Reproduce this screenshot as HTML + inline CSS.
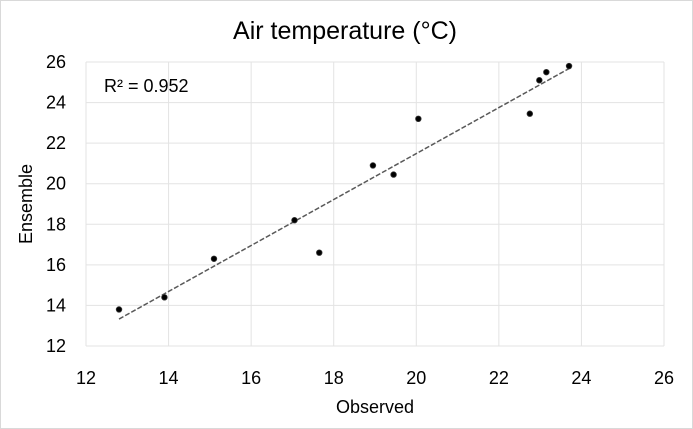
<!DOCTYPE html>
<html><head><meta charset="utf-8"><style>
body{margin:0;background:#fff;}
svg{display:block;font-family:"Liberation Sans",sans-serif;}
</style></head><body>
<svg id="c" width="693" height="429">
<rect x="0.5" y="0.5" width="692" height="428" fill="#fff" stroke="#d9d9d9"/>
<text x="345" y="39" text-anchor="middle" font-size="25" fill="#000">Air temperature (°C)</text>
<text x="375" y="413" text-anchor="middle" font-size="18" fill="#000">Observed</text>
<text transform="translate(32,204) rotate(-90)" text-anchor="middle" font-size="18" fill="#000">Ensemble</text>
<g id="grid"></g><g id="ticks"></g><g id="trend"></g><g id="pts"></g>
<text x="104" y="92" font-size="18" fill="#000">R² = 0.952</text>
</svg>
<script>
const xTicks=[12,14,16,18,20,22,24,26];
const yTicks=[12,14,16,18,20,22,24,26];
const observed=[12.8,13.9,15.1,17.05,17.65,18.95,19.45,20.05,22.75,22.98,23.15,23.7];
const ensemble=[13.8,14.4,16.3,18.2,16.6,20.9,20.45,23.2,23.45,25.1,25.5,25.8];
const ns="http://www.w3.org/2000/svg";
const X=v=>86+(v-12)*(664-86)/14;
const Y=v=>346-(v-12)*(346-62)/14;
function mk(t,a,p){const e=document.createElementNS(ns,t);for(const k in a)e.setAttribute(k,a[k]);document.getElementById(p).appendChild(e);return e;}
xTicks.forEach(v=>{
 const l=mk('line',{x1:X(v),x2:X(v),y1:Y(26),y2:Y(12),stroke:'#e3e3e3'},'grid');
 
 
 const t=mk('text',{x:X(v),y:Y(12)+38,'text-anchor':'middle','font-size':18,fill:'#000'},'ticks');t.textContent=v;
 
 
});
yTicks.forEach(v=>{
 const l=mk('line',{x1:X(12),x2:X(26),y1:Y(v),y2:Y(v),stroke:'#e3e3e3'},'grid');
 
 
 const t=mk('text',{x:X(12)-20,y:Y(v)+6,'text-anchor':'end','font-size':18,fill:'#000'},'ticks');t.textContent=v;
 
 
});
const n=observed.length,mx=observed.reduce((a,b)=>a+b)/n,my=ensemble.reduce((a,b)=>a+b)/n;
let sxy=0,sxx=0;observed.forEach((x,i)=>{sxy+=(x-mx)*(ensemble[i]-my);sxx+=(x-mx)**2;});
const b=sxy/sxx,a=my-b*mx,x0=Math.min(...observed),x1=Math.max(...observed);
const tl=mk('line',{x1:X(x0),y1:Y(a+b*x0),x2:X(x1),y2:Y(a+b*x1),stroke:'#595959','stroke-width':1.5,'stroke-dasharray':'5,2'},'trend');


observed.forEach((x,i)=>{
 const c=mk('circle',{cx:X(x),cy:Y(ensemble[i]),r:2.8,fill:'#000',stroke:'#333','stroke-width':0.8},'pts');
 
 
});
</script>
</body></html>
